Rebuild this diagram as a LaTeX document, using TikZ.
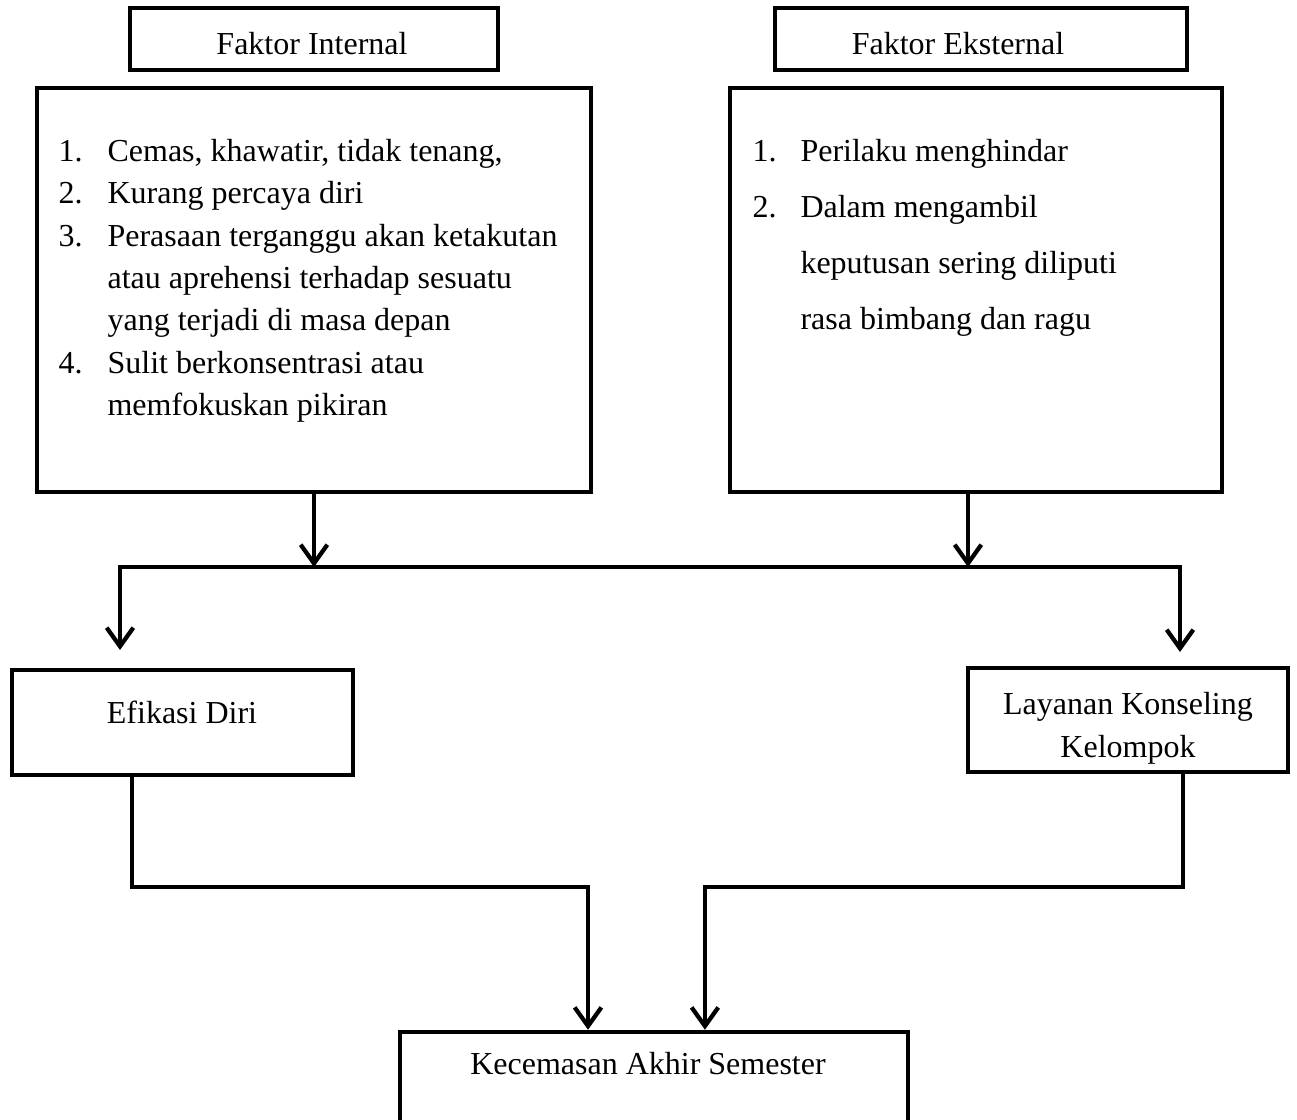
\documentclass[tikz,border=0pt]{standalone}
\usepackage{fontspec}
\setmainfont{Liberation Serif}
\usetikzlibrary{positioning,arrows.meta}

\begin{document}
\begin{tikzpicture}[x=0.375pt,y=-0.375pt,
    >={Straight Barb[length=7pt,width=10pt]},
    box/.style={draw, line width=1.7pt, inner sep=0pt},
    lbl/.style={inner sep=0pt, font=\fontsize{12}{15.9}\selectfont},
    link/.style={line width=1.6pt, ->}]
  \useasboundingbox (0,0) rectangle (1297,1119);
  % kotak faktor
  \node[box, minimum width=138pt, minimum height=23.25pt] (fi) at (314,39) {};
  \node[box, minimum width=154.5pt, minimum height=23.25pt] (fe) at (981,39) {};
  \node[lbl, anchor=base] (fitext) at (312,54) {Faktor Internal};
  \node[lbl, anchor=base] (fetext) at (958,54) {Faktor Eksternal};
  \node[box, minimum width=207.75pt, minimum height=151.5pt] (li) at (314,290) {};
  \node[box, minimum width=184.5pt, minimum height=151.5pt] (le) at (976,290) {};
  \node[lbl, anchor=north west] (litext) at (58,131) {%
    \begin{tabular}{@{}p{18.4pt}@{}l@{}}
      1. & Cemas, khawatir, tidak tenang,\\
      2. & Kurang percaya diri\\
      3. & Perasaan terganggu akan ketakutan\\
         & atau aprehensi terhadap sesuatu\\
         & yang terjadi di masa depan\\
      4. & Sulit berkonsentrasi atau\\
         & memfokuskan pikiran
    \end{tabular}};
  \node[lbl, font=\fontsize{12}{21}\selectfont, anchor=north west] (letext) at (752,122) {%
    \begin{tabular}{@{}p{18pt}@{}l@{}}
      1. & Perilaku menghindar\\
      2. & Dalam mengambil\\
         & keputusan sering diliputi\\
         & rasa bimbang dan ragu
    \end{tabular}};
  % variabel
  \node[box, minimum width=127.9pt, minimum height=39.4pt] (ed) at (182.5,722.5) {};
  \node[box, minimum width=120pt, minimum height=39pt] (lk) at (1128,720) {};
  \node[box, minimum width=190.5pt, minimum height=43.5pt] (ks) at (654,1090) {};
  \node[lbl, anchor=base] (edtext) at (182,723) {Efikasi Diri};
  \node[lbl, align=center, anchor=north] (lktext) at (1128,692) {Layanan Konseling\\Kelompok};
  \node[lbl, anchor=base] (kstext) at (648,1074) {Kecemasan Akhir Semester};
  % garis penghubung
  \coordinate (jr) at (1180,567);
  \coordinate (tl) at (120,650);
  \coordinate (tr) at (1180,652);
  \coordinate (leout) at ([xshift=-3pt]le.south);
  \draw[link] (li.south) -- (li.south |- jr);
  \draw[link] (leout) -- (leout |- jr);
  \draw[link, <->] (tl) |- (jr) -- (tr);
  \draw[link] ([xshift=-19pt]ed.south) -- ++(0,110) -| ([xshift=-24.75pt]ks.north);
  \draw[link] ([xshift=20.6pt]lk.south) -- ++(0,113) -| ([xshift=19.1pt]ks.north);
\end{tikzpicture}
\end{document}
